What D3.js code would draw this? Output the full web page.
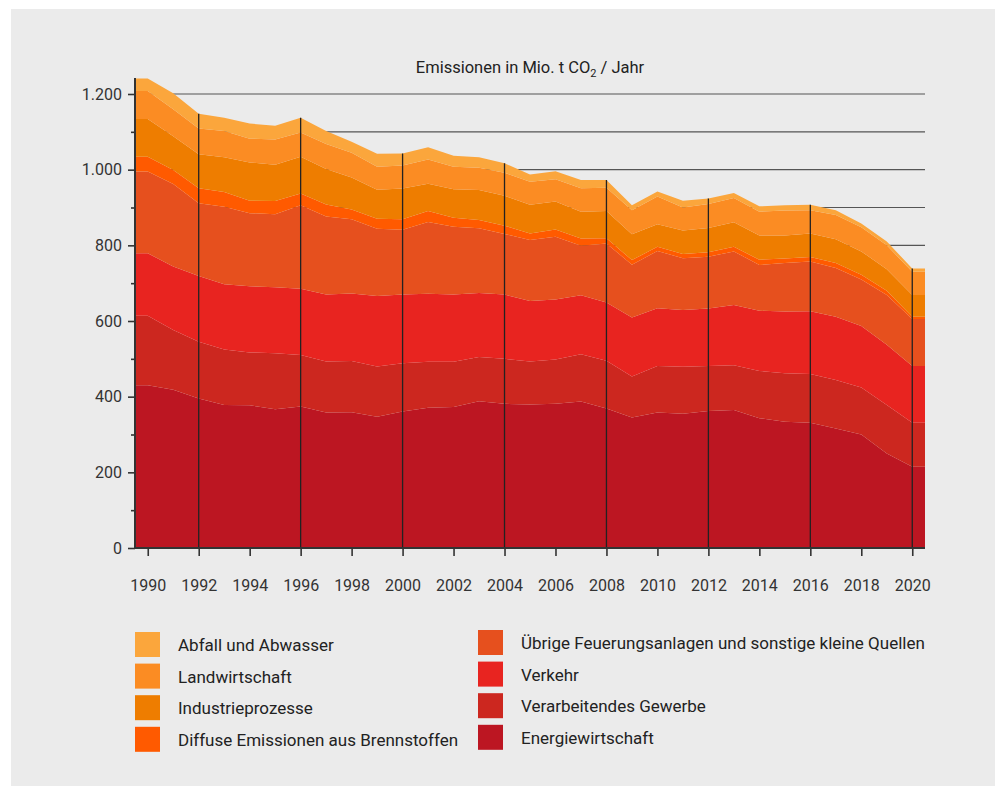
<!DOCTYPE html>
<html>
<head>
<meta charset="utf-8">
<script src="https://cdn.jsdelivr.net/npm/d3@7"></script>
<style>
  body { margin: 0; background: #fff; font-family: Roboto, "Open Sans", sans-serif; }
  .tick text { fill: #333; font-size: 16px; font-family: Roboto, sans-serif; }
  .tick line { stroke: #333; stroke-width: 1.6px; }
</style>
</head>
<body>
<div class="chart"></div>
<script>
// data (Mio. t CO2 per year)
var years = [1990, 1991, 1992, 1993, 1994, 1995, 1996, 1997, 1998, 1999,
  2000, 2001, 2002, 2003, 2004, 2005, 2006, 2007, 2008, 2009,
  2010, 2011, 2012, 2013, 2014, 2015, 2016, 2017, 2018, 2019, 2020];

var energie = [430, 418, 395, 378, 377, 367, 374, 358, 359, 347,
  361, 371, 373, 388, 381, 379, 381, 387, 369, 345,
  358, 355, 362, 365, 343, 334, 331, 316, 300, 250, 215];
var verarbeitend = [184, 158, 150, 147, 140, 148, 136, 135, 135, 133,
  127, 121, 119, 117, 119, 114, 117, 125, 126, 108,
  123, 124, 119, 118, 125, 128, 129, 128, 124, 128, 116];
var verkehr = [165, 168, 174, 172, 175, 174, 175, 177, 179, 186,
  182, 180, 178, 169, 170, 160, 159, 156, 154, 156,
  153, 150, 152, 159, 159, 163, 166, 167, 163, 159, 150];
var uebrige = [216, 218, 192, 205, 193, 193, 221, 206, 196, 178,
  171, 190, 179, 171, 160, 161, 166, 131, 156, 140,
  151, 137, 137, 142, 121, 128, 131, 129, 123, 132, 124];
var diffuse = [39, 37, 40, 39, 33, 35, 31, 32, 26, 26,
  28, 29, 24, 22, 22, 17, 19, 19, 14, 12,
  11, 11, 12, 12, 14, 12, 12, 13, 12, 11, 6];
var industrie = [100, 89, 90, 92, 101, 96, 97, 94, 84, 77,
  81, 72, 75, 79, 79, 76, 74, 71, 72, 68,
  60, 62, 64, 65, 64, 61, 62, 63, 62, 57, 58];
var landwirtschaft = [74, 72, 68, 69, 63, 67, 64, 66, 66, 61,
  61, 64, 60, 59, 61, 61, 59, 62, 61, 64,
  73, 61, 63, 64, 63, 66, 62, 64, 64, 63, 61];
var abfall = [33, 42, 39, 35, 40, 36, 39, 34, 29, 34,
  32, 32, 29, 28, 25, 19, 21, 22, 21, 13,
  13, 18, 15, 13, 14, 14, 14, 13, 10, 10, 9];

// stacking order, bottom to top
var keys = ["energie", "verarbeitend", "verkehr", "uebrige", "diffuse", "industrie", "landwirtschaft", "abfall"];
var labels = ["Energiewirtschaft", "Verarbeitendes Gewerbe", "Verkehr",
  "Übrige Feuerungsanlagen und sonstige kleine Quellen", "Diffuse Emissionen aus Brennstoffen",
  "Industrieprozesse", "Landwirtschaft", "Abfall und Abwasser"];
var colors = ["#bc1622", "#cc271f", "#e82420", "#e6501e", "#ff5a00", "#ee7d00", "#fb8c23", "#fba63c"];

var yTicks = [0, 200, 400, 600, 800, 1000, 1200];
var yMinorTicks = [100, 300, 500, 700, 900, 1100];
var gridValues = [800, 900, 1000, 1100, 1200];
var xTicks = [1990, 1992, 1994, 1996, 1998, 2000, 2002, 2004, 2006, 2008, 2010, 2012, 2014, 2016, 2018, 2020];
var markerYears = [1992, 1996, 2000, 2004, 2008, 2012, 2016, 2020];

var series = [energie, verarbeitend, verkehr, uebrige, diffuse, industrie, landwirtschaft, abfall];
var data = years.map(function(yr, i) {
  var row = { year: yr };
  keys.forEach(function(k, j) { row[k] = series[j][i]; });
  return row;
});

var svgWidth = 1005;
var svgHeight = 786;

var svg = d3.select(".chart").append("svg")
  .attr("width", svgWidth)
  .attr("height", svgHeight);

// grey panel
svg.append("rect")
  .attr("x", 11).attr("y", 9)
  .attr("width", 984).attr("height", 777)
  .attr("fill", "#ebebeb");

var xScale = d3.scaleLinear().domain([1989.5, 2020.5]).range([135, 925]);
var yScale = d3.scaleLinear().domain([0, 1200]).range([548, 94]);

var de = d3.formatLocale({ decimal: ",", thousands: ".", grouping: [3], currency: ["", " €"] });

// horizontal grid lines (behind areas)
svg.append("g").selectAll("line")
  .data(gridValues)
  .enter().append("line")
  .attr("x1", xScale(1989.5)).attr("x2", xScale(2020.5))
  .attr("y1", function(d) { return yScale(d); })
  .attr("y2", function(d) { return yScale(d); })
  .attr("stroke", "#555")
  .attr("stroke-width", 1.2);

// stacked areas, each year drawn as a half-year wide flat edge at both ends
var stacked = d3.stack().keys(keys)(data);

var area = d3.area()
  .x(function(d) { return xScale(d.x); })
  .y0(function(d) { return yScale(d.y0); })
  .y1(function(d) { return yScale(d.y1); });

svg.append("g").selectAll("path")
  .data(stacked)
  .enter().append("path")
  .attr("fill", function(d, i) { return colors[i]; })
  .attr("d", function(layer) {
    var pts = layer.map(function(p) { return { x: p.data.year, y0: p[0], y1: p[1] }; });
    var first = pts[0], last = pts[pts.length - 1];
    pts.unshift({ x: first.x - 0.5, y0: first.y0, y1: first.y1 });
    pts.push({ x: last.x + 0.5, y0: last.y0, y1: last.y1 });
    return area(pts);
  });

// vertical marker lines every four years, from the top of the stack down
var topLayer = stacked[stacked.length - 1];
svg.append("g").selectAll("line")
  .data(markerYears)
  .enter().append("line")
  .attr("x1", function(d) { return xScale(d); })
  .attr("x2", function(d) { return xScale(d); })
  .attr("y1", function(d) { return yScale(topLayer[years.indexOf(d)][1]); })
  .attr("y2", yScale(0))
  .attr("stroke", "#222")
  .attr("stroke-width", 1.3);

// y axis
var leftAxis = d3.axisLeft(yScale).tickValues(yTicks).tickSize(7).tickPadding(6)
  .tickFormat(de.format(","));
var yAxisG = svg.append("g").attr("transform", "translate(135,0)").call(leftAxis);
yAxisG.select(".domain").remove();

var minorAxis = d3.axisLeft(yScale).tickValues(yMinorTicks).tickSize(4).tickFormat("");
var yMinorG = svg.append("g").attr("transform", "translate(135,0)").call(minorAxis);
yMinorG.select(".domain").remove();

svg.append("line")
  .attr("x1", 135).attr("x2", 135)
  .attr("y1", yScale(0) + 1).attr("y2", 78)
  .attr("stroke", "#333").attr("stroke-width", 2);

// x axis
var bottomAxis = d3.axisBottom(xScale).tickValues(xTicks).tickSize(8).tickPadding(24)
  .tickFormat(d3.format("d"));
var xAxisG = svg.append("g").attr("transform", "translate(0," + yScale(0) + ")").call(bottomAxis);
xAxisG.select(".domain").remove();

svg.append("line")
  .attr("x1", 134).attr("x2", xScale(2020.5))
  .attr("y1", yScale(0)).attr("y2", yScale(0))
  .attr("stroke", "#333").attr("stroke-width", 2);

// title
var title = svg.append("text")
  .attr("x", 530).attr("y", 73)
  .attr("text-anchor", "middle")
  .style("font-size", "16.5px")
  .style("fill", "#222");
title.append("tspan").text("Emissionen in Mio. t CO");
title.append("tspan").attr("dy", 4).style("font-size", "11px").text("2");
title.append("tspan").attr("dy", -4).text(" / Jahr");

// legend: left column top-down = top four layers, right column = bottom four
var legendLeft = [7, 6, 5, 4];
var legendRight = [3, 2, 1, 0];

function drawLegend(idx, x0, y0) {
  var g = svg.append("g").selectAll("g")
    .data(idx)
    .enter().append("g")
    .attr("transform", function(d, i) { return "translate(" + x0 + "," + (y0 + i * 31.6) + ")"; });
  g.append("rect")
    .attr("width", 25).attr("height", 25)
    .attr("fill", function(d) { return colors[d]; });
  g.append("text")
    .attr("x", 43).attr("y", 19)
    .style("font-size", "17px")
    .style("fill", "#222")
    .text(function(d) { return labels[d]; });
}
drawLegend(legendLeft, 135, 632);
drawLegend(legendRight, 478, 630);
</script>
</body>
</html>
